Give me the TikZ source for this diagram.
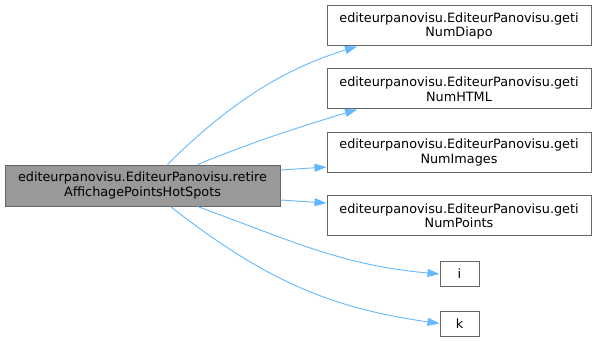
\documentclass[tikz,border=0pt]{standalone}
\usepackage{fontspec}
\setmainfont{DejaVu Sans}
\usetikzlibrary{arrows.meta}
\definecolor{edgeblue}{HTML}{63B8FF}
\definecolor{boxline}{HTML}{666666}
\definecolor{boxfill}{HTML}{999999}
\begin{document}
\begin{tikzpicture}[x=1pt,y=1pt,
  fn/.style={draw=boxline, line width=1pt, fill=white, align=center,
    inner sep=0pt, text=black, font=\fontsize{12.8}{14.5}\selectfont},
  wide/.style={fn, minimum width=264pt, minimum height=40pt},
  small/.style={fn, minimum width=39pt, minimum height=25pt},
  call/.style={draw=edgeblue, line width=0.9pt,
    -{Triangle[length=12pt,width=8pt,fill=edgeblue]}}]
\useasboundingbox (0,0) rectangle (597,-342);

% caller
\node[fn, fill=boxfill, minimum width=275pt, minimum height=41pt] (L) at (142.5,-185.5)
  {editeurpanovisu.EditeurPanovisu.retire\\AffichagePointsHotSpots};

% callees
\node[wide] (N1) at (459,-26)    {editeurpanovisu.EditeurPanovisu.geti\\NumDiapo};
\node[wide] (N2) at (459,-89)    {editeurpanovisu.EditeurPanovisu.geti\\NumHTML};
\node[wide] (N3) at (459,-152.5) {editeurpanovisu.EditeurPanovisu.geti\\NumImages};
\node[wide] (N4) at (459,-215.5) {editeurpanovisu.EditeurPanovisu.geti\\NumPoints};
\node[small] (I) at (459.5,-274) {i};
\node[small] (K) at (459.5,-323.5) {k};

% call edges
\draw[call] ([xshift=25pt]L.north) .. controls +(45:105pt) and +(197:60pt) .. ([xshift=-102pt]N1.south);
\draw[call] ([xshift=55pt]L.north) to[out=22,in=197] ([xshift=-102pt]N2.south);
\draw[call] ([yshift=15.5pt]L.east) -- ([yshift=-14.5pt]N3.west);
\draw[call] ([yshift=-14.5pt]L.east) -- ([yshift=12.5pt]N4.west);
\draw[call] ([xshift=55pt]L.south) to[out=-20,in=175] (I.west);
\draw[call] ([xshift=28pt]L.south) to[out=-38,in=172] (K.west);
\end{tikzpicture}
\end{document}
